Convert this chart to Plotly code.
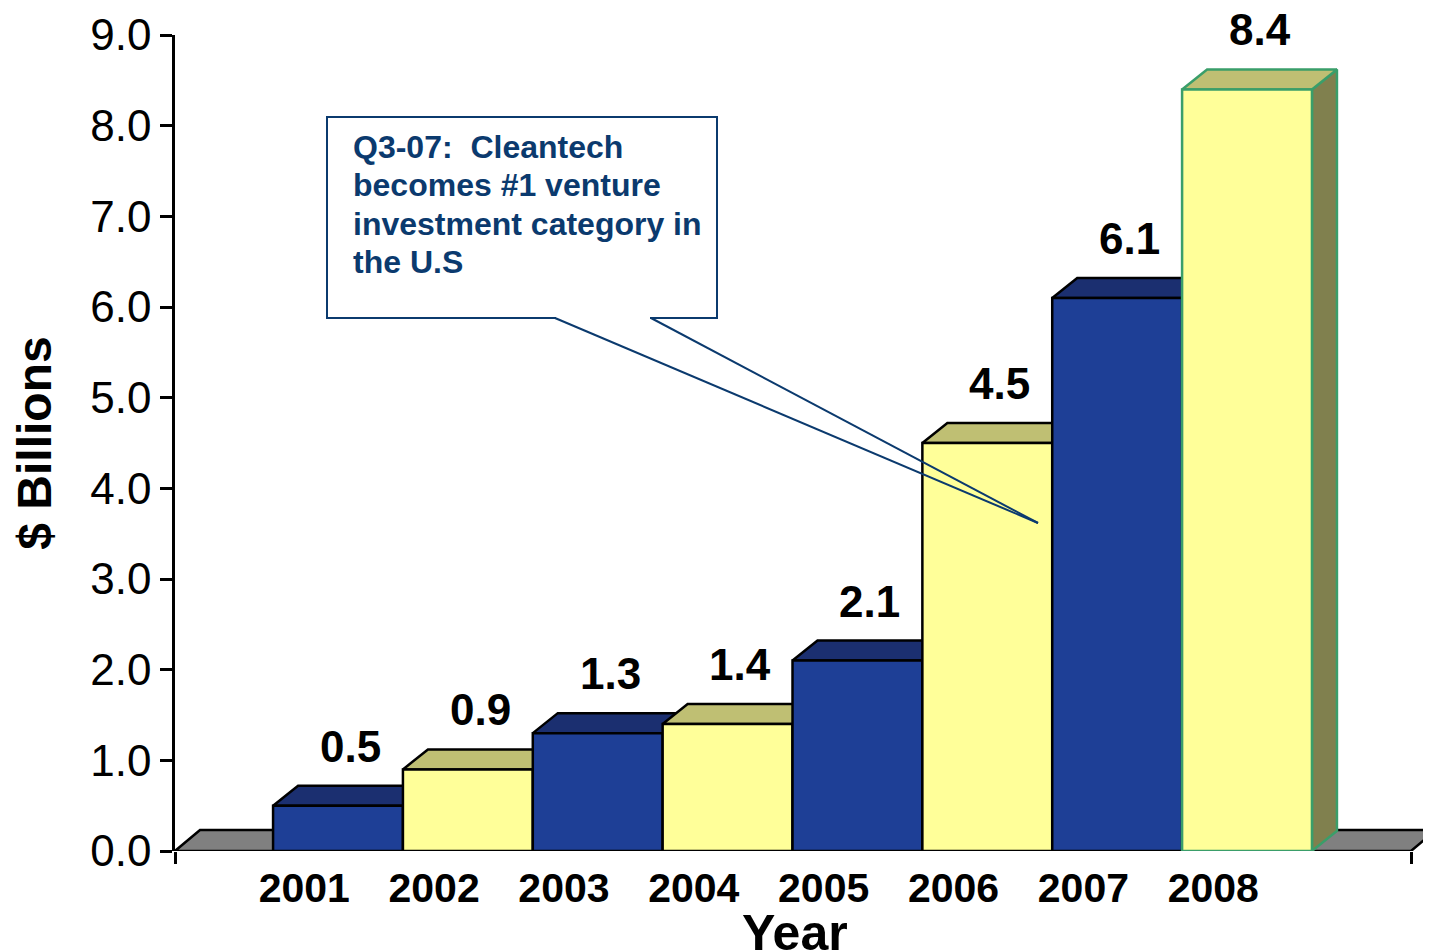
import plotly.graph_objects as go

# ---------------- data ----------------
years = ["2001", "2002", "2003", "2004", "2005", "2006", "2007", "2008"]
investment = [0.5, 0.9, 1.3, 1.4, 2.1, 4.5, 6.1, 8.4]
value_labels = ["0.5", "0.9", "1.3", "1.4", "2.1", "4.5", "6.1", "8.4"]
y_tick_values = [0, 1, 2, 3, 4, 5, 6, 7, 8, 9]
y_tick_labels = ["0.0", "1.0", "2.0", "3.0", "4.0", "5.0", "6.0", "7.0", "8.0", "9.0"]
x_title = "Year"
y_title = "$ Billions"
callout_lines = ["Q3-07:  Cleantech", "becomes #1 venture",
                 "investment category in", "the U.S"]

# ---------------- geometry / style (page pixels) ----------------
PAGE_W, PAGE_H = 1431, 950
BODY = 8                      # default page body margin
PLOT_LEFT, PLOT_RIGHT = 175, 1431
PLOT_TOP, PLOT_BOTTOM = 35, 851
W, H = PAGE_W - BODY, PAGE_H - BODY
M_L = PLOT_LEFT - BODY
M_T = PLOT_TOP - BODY
M_R = W - (PLOT_RIGHT - BODY)
M_B = H - (PLOT_BOTTOM - BODY)
PLOT_W = PLOT_RIGHT - PLOT_LEFT
PLOT_H = PLOT_BOTTOM - PLOT_TOP
Y_MAX = 9
CAT_PX = 129.86          # pixels per category
FIRST_CENTER_PX = 338    # page pixel centre of first bar
X_MIN = (PLOT_LEFT - FIRST_CENTER_PX) / CAT_PX
X_MAX = X_MIN + PLOT_W / CAT_PX
PX_Y = PLOT_H / Y_MAX


def px_x(px):
    return (px - FIRST_CENTER_PX) / CAT_PX


def px_y(py):
    return (PLOT_BOTTOM - py) / PX_Y


FLOOR_END = px_x(1411)
DX = 25 / CAT_PX
DY = 20 / PX_Y
LABEL_SHIFT = -0.26
FONT = "Liberation Sans, Arial, Helvetica, sans-serif"
NAVY = "#0B3A6E"

FRONT = ["#1E3F96", "#FFFF99"]
TOP = ["#1B2F70", "#BFBF73"]
SIDE = ["#14235A", "#80804E"]
EDGE_W = 2.5

fig = go.Figure()


def poly(xs, ys, fill, line_color):
    fig.add_trace(go.Scatter(
        x=xs + [xs[0]], y=ys + [ys[0]], mode="lines", fill="toself",
        fillcolor=fill, line=dict(color=line_color, width=EDGE_W),
        hoverinfo="skip", showlegend=False))


# floor
poly([X_MIN, X_MIN + DX, FLOOR_END + DX, FLOOR_END],
     [0, DY * 1.05, DY * 1.05, 0], "#808080", "black")

n = len(years)
for i, (yr, v) in enumerate(zip(years, investment)):
    k = i % 2
    edge = "#3A9E6A" if i == n - 1 else "black"
    x0, x1 = i - 0.5, i + 0.5
    # side
    poly([x1, x1 + DX, x1 + DX, x1], [0, DY, v + DY, v], SIDE[k], edge)
    # top
    poly([x0, x0 + DX, x1 + DX, x1], [v, v + DY, v + DY, v], TOP[k], edge)
    # front
    fig.add_trace(go.Scatter(
        x=[x0, x1, x1, x0, x0], y=[0, 0, v, v, 0], mode="lines",
        fill="toself", fillcolor=FRONT[k],
        line=dict(color=edge, width=EDGE_W), name=yr,
        hovertemplate=f"{yr}: %{{customdata}}<extra></extra>",
        customdata=[v] * 5, showlegend=False))

annotations = []
for i, (v, lab) in enumerate(zip(investment, value_labels)):
    annotations.append(dict(
        x=i + DX / 2, y=v + DY, xref="x", yref="y", text=lab, showarrow=False,
        xanchor="center", yanchor="bottom", yshift=13,
        font=dict(family=FONT, size=44, color="black", weight="bold")))

# callout text, one line at a time
CALLOUT_FIRST_PX = 147
CALLOUT_STEP_PX = 38.3
for j, line in enumerate(callout_lines):
    annotations.append(dict(
        x=px_x(351), y=px_y(CALLOUT_FIRST_PX + j * CALLOUT_STEP_PX),
        xref="x", yref="y", xanchor="left", yanchor="middle",
        align="left", showarrow=False, text=line,
        font=dict(family=FONT, size=32, color=NAVY, weight="bold")))

# x-axis title (annotation in paper units so it can sit as low as the original)
annotations.append(dict(
    x=(795 - PLOT_LEFT) / PLOT_W, y=(PLOT_BOTTOM - 933) / PLOT_H,
    xref="paper", yref="paper", xanchor="center", yanchor="middle",
    showarrow=False, text=x_title,
    font=dict(family=FONT, size=50, color="black", weight="bold")))

shapes = [
    # callout box
    dict(type="rect", xref="x", yref="y", x0=px_x(327), x1=px_x(717),
         y0=px_y(318), y1=px_y(117), fillcolor="white",
         line=dict(color=NAVY, width=2), layer="above"),
    # gap in the box bottom for the pointer
    dict(type="line", xref="x", yref="y", x0=px_x(556), x1=px_x(650),
         y0=px_y(318), y1=px_y(318), line=dict(color="white", width=3),
         layer="above"),
    dict(type="line", xref="x", yref="y", x0=px_x(555), x1=px_x(1038),
         y0=px_y(318), y1=px_y(523), line=dict(color=NAVY, width=2),
         layer="above"),
    dict(type="line", xref="x", yref="y", x0=px_x(651), x1=px_x(1038),
         y0=px_y(318), y1=px_y(523), line=dict(color=NAVY, width=2),
         layer="above"),
]

fig.update_layout(
    width=W, height=H, margin=dict(l=M_L, r=M_R, t=M_T, b=M_B, pad=0),
    plot_bgcolor="white", paper_bgcolor="white", showlegend=False,
    annotations=annotations, shapes=shapes,
    xaxis=dict(
        range=[X_MIN, X_MAX], showgrid=False, zeroline=False, showline=False,
        automargin=False,
        tickmode="array", tickvals=[i + LABEL_SHIFT for i in range(n)],
        ticktext=years, ticks="", ticklabelstandoff=9,
        tickfont=dict(family=FONT, size=41, color="black", weight="bold"),
        minor=dict(tickmode="array", tickvals=[X_MIN + 1e-6, FLOOR_END],
                   ticks="outside", ticklen=12, tickwidth=2.5,
                   tickcolor="black"),
    ),
    yaxis=dict(
        range=[0, Y_MAX], showgrid=False, zeroline=False, showline=True,
        automargin=False,
        linecolor="black", linewidth=2.5, ticks="outside", ticklen=12,
        tickwidth=2.5, tickcolor="black", tickmode="array",
        tickvals=y_tick_values, ticktext=y_tick_labels,
        tickfont=dict(family=FONT, size=44, color="black"),
        title=dict(text=y_title, standoff=25,
                   font=dict(family=FONT, size=48, color="black",
                             weight="bold")),
    ),
)

fig.write_html("out.html")
